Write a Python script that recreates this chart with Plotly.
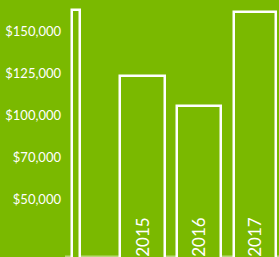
import plotly.graph_objects as go

# ---- data ----
years = [2014, 2015, 2016, 2017]
year_labels = ["", "2015", "2016", "2017"]
values = [162500, 123200, 105400, 161300]
tick_values = [50000, 75000, 100000, 125000, 150000]
tick_labels = ["$50,000", "$70,000", "$100,000", "$125,000", "$150,000"]

GREEN = "#7ab900"
Y_MIN = 15500
Y_MAX = 168450
BAR_BASE = Y_MIN - 1500

widths = [0.145, 0.8, 0.77, 0.74]
offsets = [-0.25, -0.4, -0.38, -0.37]

fig = go.Figure()
fig.add_trace(go.Bar(
    x=years,
    y=[v - BAR_BASE for v in values],
    base=BAR_BASE,
    width=widths,
    offset=offsets,
    marker=dict(color=GREEN, line=dict(color="white", width=2.5)),
    text=year_labels,
    textposition="inside",
    insidetextanchor="start",
    textangle=-90,
    textfont=dict(color="white", size=17, family="Lato"),
    hoverinfo="skip",
))

# thin white baseline, visible only in the gaps between bars
fig.add_shape(type="line", xref="paper", yref="y", x0=0, x1=1,
              y0=16000, y1=16000, layer="below",
              line=dict(color="rgba(255,255,255,0.7)", width=1))

fig.update_layout(
    width=279, height=257,
    margin=dict(l=65, r=0, t=0, b=0),
    paper_bgcolor=GREEN, plot_bgcolor=GREEN,
    showlegend=False,
    bargap=0,
    xaxis=dict(range=[2013.6222, 2017.4267], showgrid=False, zeroline=False,
               showticklabels=False, showline=False, fixedrange=True),
    yaxis=dict(range=[Y_MIN, Y_MAX], showgrid=False, zeroline=False,
               tickvals=tick_values, ticktext=tick_labels, ticks="",
               ticklabelstandoff=3,
               tickfont=dict(color="white", size=13, family="Lato"),
               showline=False, fixedrange=True),
)

fig.write_html("out.html", config={"displayModeBar": False},
               post_script="document.body.style.margin='0';document.body.style.overflow='hidden';")
